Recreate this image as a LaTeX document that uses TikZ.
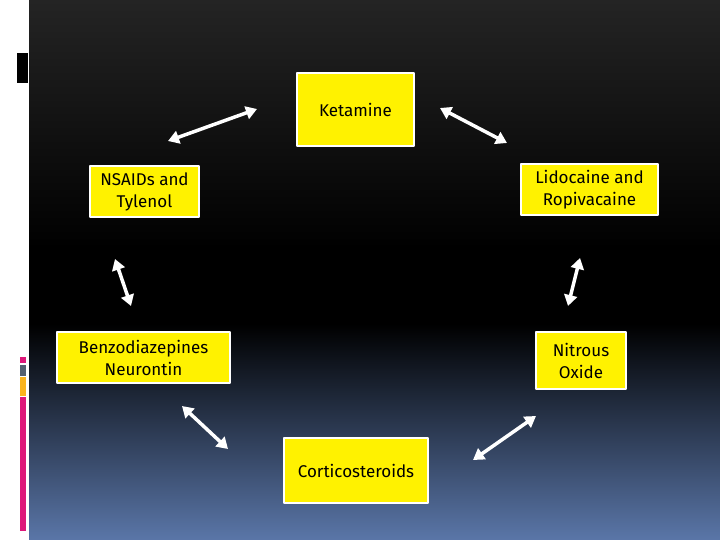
\documentclass[tikz,border=0pt]{standalone}
\usepackage{fontspec}
\setmainfont{Fira Sans}
\usetikzlibrary{arrows.meta}

\definecolor{bgtop}{RGB}{36,36,36}
\definecolor{bgbottom}{RGB}{90,118,168}
\definecolor{barpink}{RGB}{222,24,122}
\definecolor{bargray}{RGB}{84,96,112}
\definecolor{baryellow}{RGB}{250,180,30}

\pgfdeclareverticalshading{slidebg}{100bp}{color(0bp)=(bgbottom); color(25bp)=(bgbottom);
    color(45bp)=(black); color(52bp)=(black); color(75bp)=(bgtop); color(100bp)=(bgtop)}

\begin{document}
\begin{tikzpicture}[
    x = 1pt, y = -1pt,
    line join=round,
    drug/.style = {draw=white, line width=2.5pt, fill=yellow, text=black,
        align=center, inner sep=0pt, font=\fontsize{17}{22}\selectfont},
    link/.style = {white, line width=3.5pt, {Triangle[length=11pt,width=13pt]}-{Triangle[length=11pt,width=13pt]}}
]

\useasboundingbox (0,0) rectangle (720,540);
\fill[white] (0,0) rectangle (720,540);
\shade[shading=slidebg] (29,0) rectangle (720,540);

\fill[black] (17,53) rectangle (28,83);
\fill[barpink] (20,357) rectangle (26,363);
\fill[bargray] (20,365) rectangle (26,376);
\fill[baryellow] (20,377) rectangle (26,396);
\fill[barpink] (20,397) rectangle (26,531);

\node[drug, minimum width=117pt, minimum height=73pt] (ket) at (355.5,109.5) {Ketamine};
\node[drug, minimum width=109pt, minimum height=51pt] (nsaid) at (144.5,191.5) {NSAIDs and\\Tylenol};
\node[drug, minimum width=137pt, minimum height=51pt] (lido) at (589.5,189.5) {Lidocaine and\\Ropivacaine};
\node[drug, minimum width=173pt, minimum height=51pt] (benzo) at (143.5,357.5) {Benzodiazepines\\Neurontin};
\node[drug, minimum width=90pt, minimum height=57pt] (nitrous) at (581,360.5) {Nitrous\\Oxide};
\node[drug, minimum width=144pt, minimum height=65pt] (cortico) at (356,470.5) {Corticosteroids};

\coordinate (a1) at (168,141);
\coordinate (a2) at (257,109);
\coordinate (b1) at (440,108);
\coordinate (b2) at (507,143);
\coordinate (c1) at (115,259);
\coordinate (c2) at (131,306);
\coordinate (d1) at (580,258);
\coordinate (d2) at (568,306);
\coordinate (e1) at (182,406);
\coordinate (e2) at (228,449);
\coordinate (f1) at (473,460);
\coordinate (f2) at (536,416);

\draw[link] (a1) -- (a2);
\draw[link] (b1) -- (b2);
\draw[link] (c1) -- (c2);
\draw[link] (d1) -- (d2);
\draw[link] (e1) -- (e2);
\draw[link] (f1) -- (f2);

\end{tikzpicture}
\end{document}
